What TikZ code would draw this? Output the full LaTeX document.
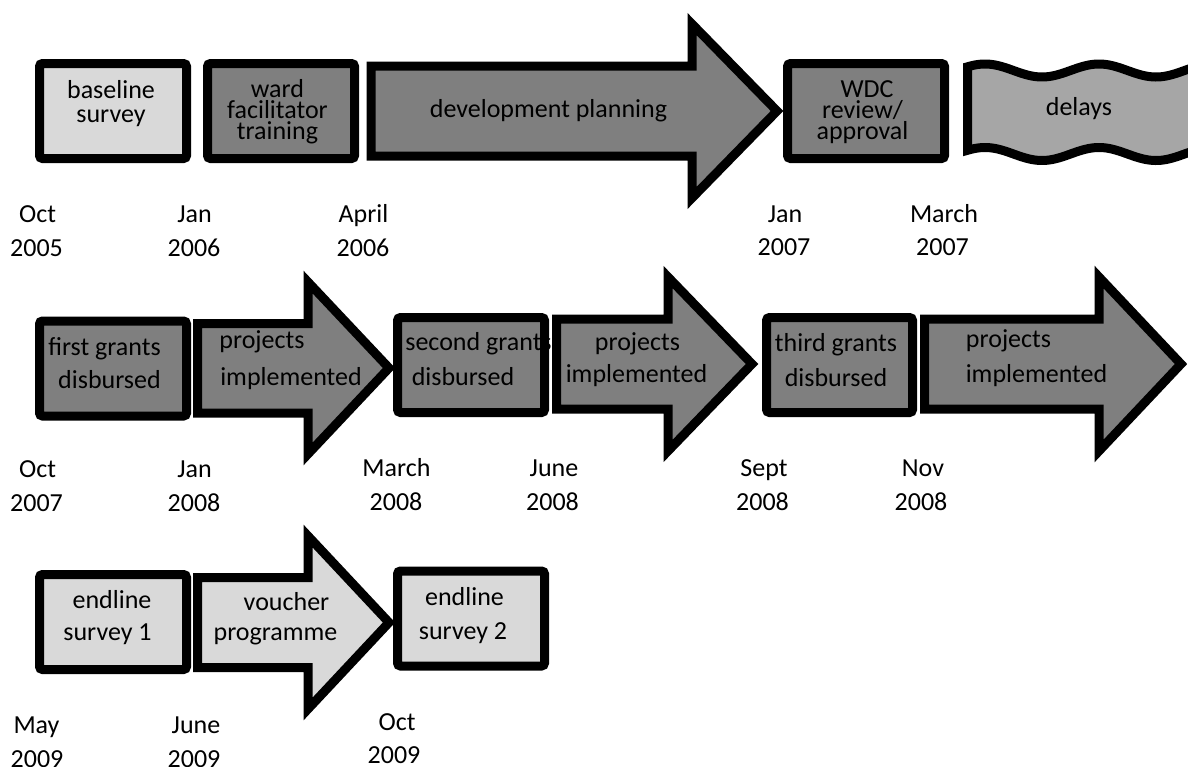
\documentclass[tikz,border=0pt]{standalone}
\usepackage{fontspec}
\setmainfont{Carlito}
\definecolor{lightg}{HTML}{D9D9D9}
\definecolor{darkg}{HTML}{7F7F7F}
\definecolor{midg}{HTML}{A6A6A6}
\tikzset{
  shp/.style={draw=black, line width=9pt, line join=miter, miter limit=10},
  boxs/.style={shp, rectangle, rounded corners=3pt, inner sep=0pt, minimum width=147pt, minimum height=95pt},
  lite/.style={fill=lightg},
  dark/.style={fill=darkg},
  midf/.style={fill=midg},
  lbl/.style={anchor=base, inner sep=0pt, font=\fontsize{26}{30}\selectfont},
}
\begin{document}
\begin{tikzpicture}[x=1pt,y=-1pt]
\clip (0,0) rectangle (1188,766);
\fill[white] (0,0) rectangle (1188,766);

% ---------------- Row 1 ----------------
\node[boxs, lite] (bs) at (113,111) {};
\node[lbl] (bs1) at (111,98) {baseline};
\node[lbl] (bs2) at (111,122) {survey};

\node[boxs, dark] (wf) at (281,111) {};
\node[lbl] (wf1) at (277.5,97) {ward};
\node[lbl] (wf2) at (277.5,118) {facilitator};
\node[lbl] (wf3) at (277.5,139) {training};

\draw[shp, dark] (371,66) -- (692,66) -- (692,24) -- (777,111) -- (692,198) -- (692,156) -- (371,156) -- cycle;
\node[lbl] (dp) at (548.5,117) {development planning};

\node[boxs, dark, minimum width=157pt] (wdc) at (866,111) {};
\node[lbl] (wdc1) at (867,97) {WDC};
\node[lbl] (wdc2) at (862.5,118) {review/};
\node[lbl] (wdc3) at (862.5,139) {approval};

\draw[shp, midf] plot[domain=967.5:1200, samples=90] (\x,{70.5-6.5*cos(3.1579*(\x-985))})
   -- plot[domain=1200:967.5, samples=90] (\x,{154-6.5*cos(3.1579*(\x-985))}) -- cycle;
\node[lbl] (dl) at (1079,115) {delays};

\node[lbl] (d1a) at (37.5,222) {Oct};
\node[lbl] (d1b) at (36.5,256) {2005};
\node[lbl] (d2a) at (194.5,222) {Jan};
\node[lbl] (d2b) at (194,256) {2006};
\node[lbl] (d3a) at (363.5,222) {April};
\node[lbl] (d3b) at (363,256) {2006};
\node[lbl] (d4a) at (785,222) {Jan};
\node[lbl] (d4b) at (784,255) {2007};
\node[lbl] (d5a) at (944,222) {March};
\node[lbl] (d5b) at (942.5,255) {2007};

% ---------------- Row 2 ----------------
\node[boxs, dark] (g1) at (113,368.5) {};
\node[lbl] (g1a) at (104.5,355) {first grants};
\node[lbl] (g1b) at (109.5,388) {disbursed};

\draw[shp, dark] (197.5,323.5) -- (308,323.5) -- (308,282) -- (389,368) -- (308,454) -- (308,413) -- (197.5,413) -- cycle;
\node[lbl] (p1a) at (262,348) {projects};
\node[lbl] (p1b) at (291,385) {implemented};

\node[boxs, dark] (g2) at (471,365) {};
\node[lbl] (g2a) at (478.5,350) {second grants};
\node[lbl] (g2b) at (463,385) {disbursed};

\draw[shp, dark] (556.5,319) -- (668,319) -- (668,277) -- (752,364) -- (668,451) -- (668,409) -- (556.5,409) -- cycle;
\node[lbl] (p2a) at (637.5,350) {projects};
\node[lbl] (p2b) at (636.5,382) {implemented};

\node[boxs, dark, minimum width=146pt] (g3) at (839.5,365) {};
\node[lbl] (g3a) at (836,351) {third grants};
\node[lbl] (g3b) at (836,386) {disbursed};

\draw[shp, dark] (924.5,319) -- (1099,319) -- (1099,277) -- (1181,364) -- (1099,451) -- (1099,409) -- (924.5,409) -- cycle;
\node[lbl] (p3a) at (1008.5,347) {projects};
\node[lbl] (p3b) at (1036.5,382) {implemented};

\node[lbl] (e1a) at (37.5,477) {Oct};
\node[lbl] (e1b) at (36.5,511) {2007};
\node[lbl] (e2a) at (194.5,477) {Jan};
\node[lbl] (e2b) at (194,511) {2008};
\node[lbl] (e3a) at (396.5,476) {March};
\node[lbl] (e3b) at (396,510) {2008};
\node[lbl] (e4a) at (554,476) {June};
\node[lbl] (e4b) at (552.5,510) {2008};
\node[lbl] (e5a) at (764,476) {Sept};
\node[lbl] (e5b) at (762.5,510) {2008};
\node[lbl] (e6a) at (923,476) {Nov};
\node[lbl] (e6b) at (921,510) {2008};

% ---------------- Row 3 ----------------
\node[boxs, lite] (s1) at (113,622) {};
\node[lbl] (s1a) at (112,608) {endline};
\node[lbl] (s1b) at (107.5,640) {survey 1};

\draw[shp, lite] (197.5,577.5) -- (308,577.5) -- (308,536) -- (389,622.5) -- (308,709) -- (308,667.5) -- (197.5,667.5) -- cycle;
\node[lbl] (vpa) at (286.5,610) {voucher};
\node[lbl] (vpb) at (275.5,640) {programme};

\node[boxs, lite] (s2) at (471,618.5) {};
\node[lbl] (s2a) at (464.5,605) {endline};
\node[lbl] (s2b) at (463,639) {survey 2};

\node[lbl] (f1a) at (36.5,733) {May};
\node[lbl] (f1b) at (37,767) {2009};
\node[lbl] (f2a) at (196,733) {June};
\node[lbl] (f2b) at (194,767) {2009};
\node[lbl] (f3a) at (397,730) {Oct};
\node[lbl] (f3b) at (394,763) {2009};
\end{tikzpicture}
\end{document}
